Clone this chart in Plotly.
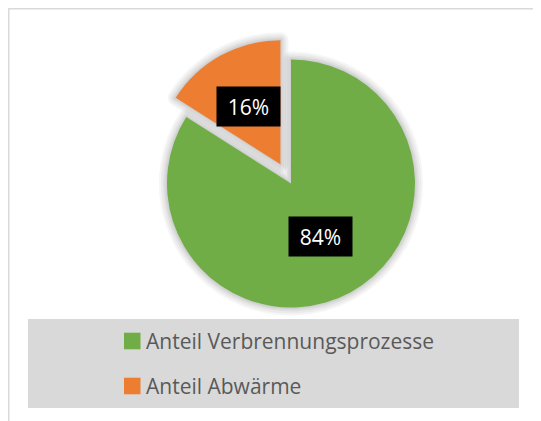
import math
import plotly.graph_objects as go

# ---- data ----
labels = ["Anteil Verbrennungsprozesse", "Anteil Abwärme"]
values = [84, 16]
colors = ["#70AD47", "#ED7D31"]
pulls = [0.0, 0.177]

# ---- geometry / layout (figure pixels; page has an 8px body margin) ----
W, H = 533, 413
cx, cy, r = 283, 175.5, 124
maxpull = max(pulls)
half = r * (1 + maxpull)
dom_x = [(cx - half) / W, (cx + half) / W]
dom_y = [(H - cy - half) / H, (H - cy + half) / H]

fig = go.Figure()

# soft shadow layers
for w in (16, 12, 8, 5, 2.5):
    fig.add_trace(go.Pie(
        labels=labels, values=values, sort=False, direction="clockwise", rotation=0,
        pull=pulls, domain=dict(x=dom_x, y=dom_y),
        marker=dict(colors=["rgba(0,0,0,0)"] * 2, line=dict(color="rgba(0,0,0,0.04)", width=w)),
        textinfo="none", hoverinfo="skip", showlegend=False,
    ))

fig.add_trace(go.Pie(
    labels=labels, values=values, sort=False, direction="clockwise", rotation=0,
    pull=pulls, domain=dict(x=dom_x, y=dom_y),
    marker=dict(colors=colors, line=dict(width=0)),
    textinfo="none", showlegend=False,
))

# data labels: black boxes at slice bisectors
total = sum(values)
cum = 0
annotations = []
for lab, v, p in zip(labels, values, pulls):
    theta = math.radians(360 * (cum + v / 2) / total)
    cum += v
    d = p * r + (0.49 if p == 0 else 0.53) * r
    px = cx + d * math.sin(theta)
    py = cy - d * math.cos(theta)
    annotations.append(dict(
        x=px / W, y=1 - py / H, xref="paper", yref="paper", showarrow=False,
        text=f"{round(100 * v / total)}%", font=dict(family="Open Sans", size=21, color="white"),
        bgcolor="black", width=60, height=36, borderpad=1.5, xanchor="center", yanchor="middle",
    ))

# chart border + manual legend
shapes = [
    dict(type="rect", xref="paper", yref="paper", x0=0.75 / W, x1=1.2, y0=-0.2, y1=1 - 0.75 / H,
         line=dict(color="#d9d9d9", width=1.5), fillcolor="rgba(0,0,0,0)", layer="below"),
    dict(type="rect", xref="paper", yref="paper", x0=20 / W, x1=511 / W, y0=1 - 400 / H, y1=1 - 311 / H,
         line=dict(width=0), fillcolor="#d9d9d9", layer="below"),
]
item_y = [333, 378]
for lab, col, yy in zip(labels, colors, item_y):
    shapes.append(dict(type="rect", xref="paper", yref="paper", x0=116 / W, x1=132.5 / W,
                       y0=1 - (yy + 8.3) / H, y1=1 - (yy - 8.3) / H, line=dict(width=0), fillcolor=col))
    annotations.append(dict(x=136 / W, y=1 - yy / H, xref="paper", yref="paper", showarrow=False,
                            text=lab, xanchor="left", yanchor="middle",
                            font=dict(family="Open Sans", size=21, color="#595959")))

fig.update_layout(
    width=W, height=H, margin=dict(l=0, r=0, t=0, b=0),
    paper_bgcolor="white", plot_bgcolor="white",
    shapes=shapes, annotations=annotations, showlegend=False,
)

fig.write_html("out.html")
